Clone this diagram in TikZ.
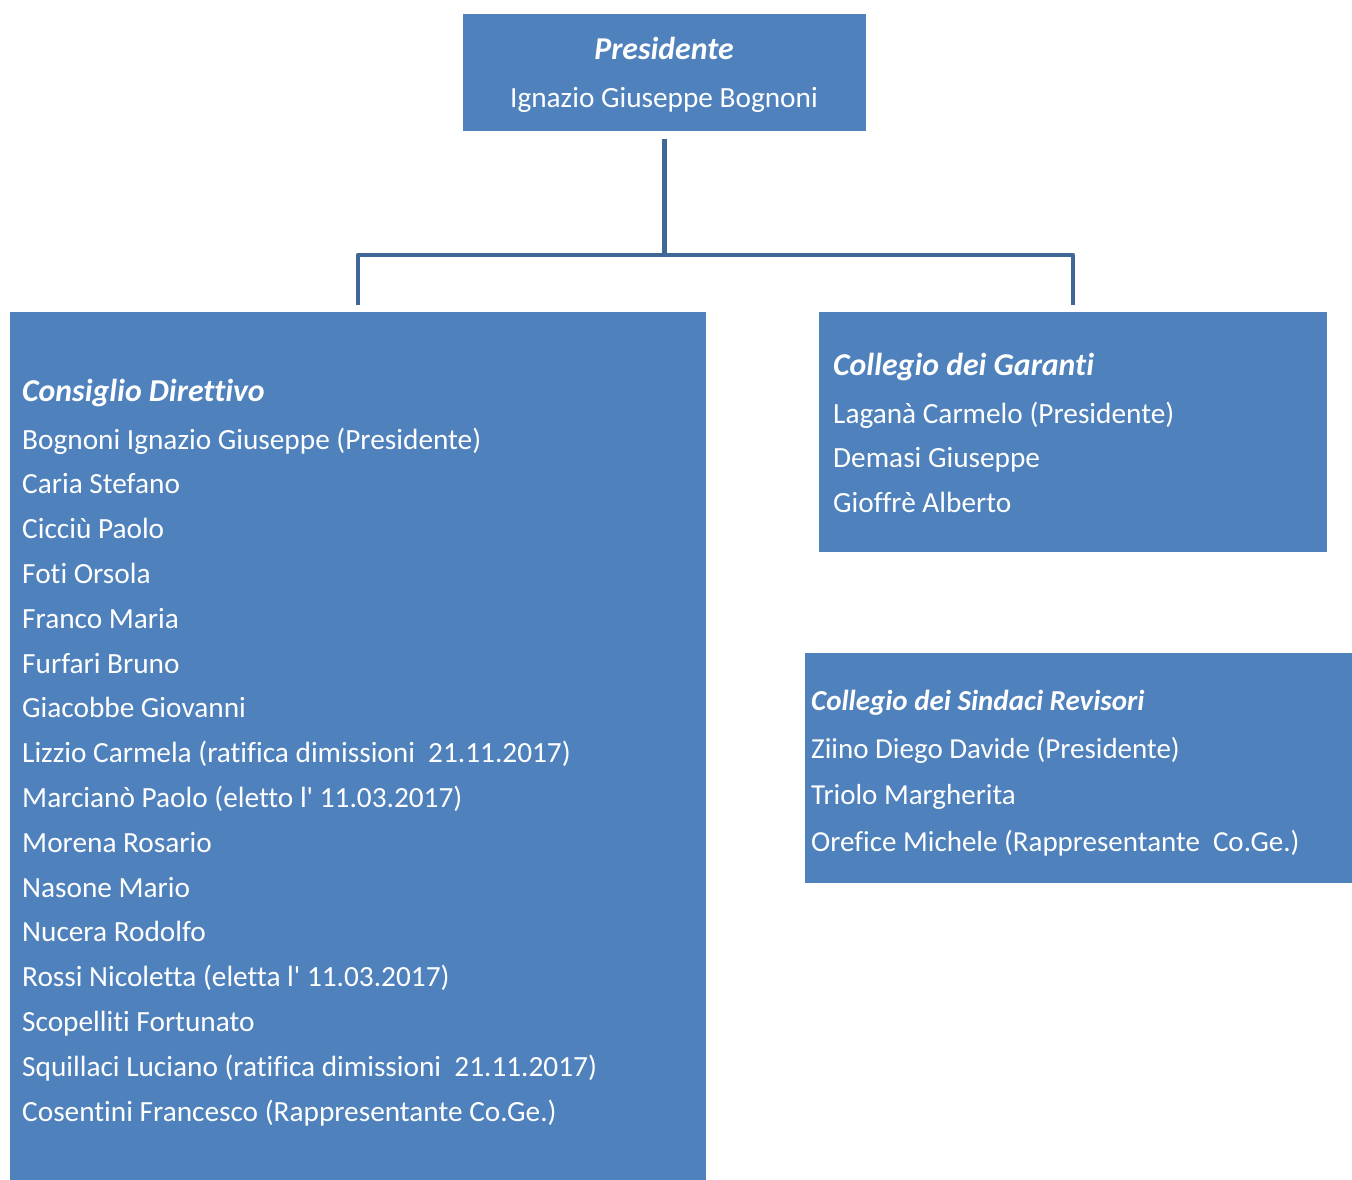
\documentclass[tikz,border=0pt]{standalone}
\usepackage{fontspec}
\setmainfont{Carlito}[Ligatures={TeXOff,CommonOff}]
\definecolor{boxblue}{HTML}{4F81BD}
\definecolor{lineblue}{HTML}{3F6797}
\begin{document}
\begin{tikzpicture}[x=1pt,y=-1pt,
  box/.style={fill=boxblue,draw=none,anchor=north west,inner sep=0pt,outer sep=0pt},
  txt/.style={anchor=base west,inner sep=0pt,text=white,font=\fontsize{29.3}{34}\selectfont},
  head/.style={txt,font=\fontsize{31.8}{36}\selectfont\bfseries\itshape},
  stxt/.style={txt,font=\fontsize{29}{34}\selectfont},
  shead/.style={txt,font=\fontsize{29}{34}\selectfont\bfseries\itshape},
  conn/.style={draw=lineblue,line width=4.5pt,line join=round}]
\useasboundingbox (0,0) rectangle (1352,1180);
\fill[white] (0,0) rectangle (1352,1180);
% boxes
\node[box,minimum width=403pt,minimum height=117pt] (pres) at (463,14) {};
\node[box,minimum width=696pt,minimum height=868pt] (cons) at (10,312) {};
\node[box,minimum width=508pt,minimum height=240pt] (gar) at (819,312) {};
\node[box,minimum width=547pt,minimum height=230pt] (sind) at (805,653) {};
% connectors
\path (pres.south) ++(0,124) coordinate (j);
\draw[conn,shorten <=8pt] (pres.south) -- (j);
\draw[conn,shorten <=7pt,shorten >=7pt] (cons.north) |- (j) -| (gar.north);
% Presidente
\node[head,anchor=base] (pt) at (664,60) {Presidente};
\node[txt,anchor=base] (pn) at (664,108) {Ignazio Giuseppe Bognoni};
% Consiglio Direttivo
\node[head] (ch) at (22,401) {Consiglio Direttivo};
\foreach \t [count=\i from 0] in {%
  Bognoni Ignazio Giuseppe (Presidente),
  Caria Stefano,
  Cicciù Paolo,
  Foti Orsola,
  Franco Maria,
  Furfari Bruno,
  Giacobbe Giovanni,
  Lizzio Carmela (ratifica dimissioni\ \ 21.11.2017),
  Marcianò Paolo (eletto l' 11.03.2017),
  Morena Rosario,
  Nasone Mario,
  Nucera Rodolfo,
  Rossi Nicoletta (eletta l' 11.03.2017),
  Scopelliti Fortunato,
  Squillaci Luciano (ratifica dimissioni\ \ 21.11.2017),
  Cosentini Francesco (Rappresentante Co.Ge.)}
  \node[txt] (c\i) at (22,{449+44.8*\i}) {\t};
% Collegio dei Garanti
\node[head] (gh) at (833,375) {Collegio dei Garanti};
\node[txt] (g1) at (833,423) {Laganà Carmelo (Presidente)};
\node[txt] (g2) at (833,467) {Demasi Giuseppe};
\node[txt] (g3) at (833,512) {Gioffrè Alberto};
% Collegio dei Sindaci Revisori
\node[shead] (sh) at (811,710) {Collegio dei Sindaci Revisori};
\node[stxt] (s1) at (811,758) {Ziino Diego Davide (Presidente)};
\node[stxt] (s2) at (811,804) {Triolo Margherita};
\node[stxt] (s3) at (811,851) {Orefice Michele (Rappresentante\ \ Co.Ge.)};
\end{tikzpicture}
\end{document}
